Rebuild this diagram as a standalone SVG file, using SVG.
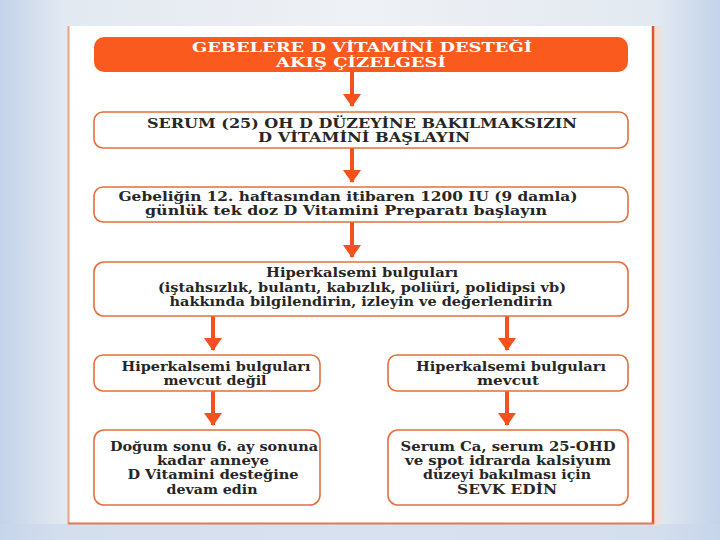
<svg xmlns="http://www.w3.org/2000/svg" width="720" height="540" viewBox="0 0 720 540">
<defs>
<linearGradient id="bg" x1="0" y1="0" x2="1" y2="0">
<stop offset="0" stop-color="#c3d3ea"/>
<stop offset="0.09" stop-color="#e3e9f1"/>
<stop offset="0.5" stop-color="#eef1f5"/>
<stop offset="0.91" stop-color="#e3e9f1"/>
<stop offset="1" stop-color="#c3d3ea"/>
</linearGradient>
<linearGradient id="glow" x1="0" y1="0" x2="1" y2="0">
<stop offset="0" stop-color="#f9d9cb"/>
<stop offset="1" stop-color="#f9d9cb" stop-opacity="0"/>
</linearGradient>
<marker id="ahd" markerUnits="userSpaceOnUse" markerWidth="14" markerHeight="18" refX="12" refY="9" orient="auto" viewBox="0 0 14 18">
<path d="M0,0 L13,9 L0,18 Z" fill="#f4511e"/>
</marker>
</defs>
<style>
.box{fill:#ffffff;stroke:#e2703f;stroke-width:1.6}
.t{font-family:"DejaVu Serif","Liberation Serif",serif;font-weight:bold;font-size:12.5px;fill:#262626;text-anchor:middle}
.w{fill:#ffffff}
.arr{stroke:#f4511e;stroke-width:4;fill:none;marker-end:url(#ahd)}
</style>
<rect x="0" y="0" width="720" height="540" fill="url(#bg)"/>
<rect x="0" y="524" width="720" height="16" fill="#c9d7eb" opacity="0.6"/>
<rect x="654" y="26" width="10" height="500" fill="url(#glow)"/>
<rect x="68" y="26" width="586" height="498" fill="#ffffff"/>
<line x1="68.5" y1="26" x2="68.5" y2="524" stroke="#eaa488" stroke-width="2"/>
<line x1="653" y1="26" x2="653" y2="524" stroke="#d8572a" stroke-width="2.5"/>
<line x1="68" y1="523.5" x2="654" y2="523.5" stroke="#e07a55" stroke-width="2"/>

<g id="connectors">
<line class="arr" x1="352" y1="72" x2="352" y2="106"/>
<line class="arr" x1="352" y1="148" x2="352" y2="182"/>
<line class="arr" x1="352" y1="222" x2="352" y2="257"/>
<line class="arr" x1="213" y1="316" x2="213" y2="350"/>
<line class="arr" x1="507" y1="316" x2="507" y2="350"/>
<line class="arr" x1="213" y1="391" x2="213" y2="425"/>
<line class="arr" x1="507" y1="391" x2="507" y2="425"/>
</g>

<g id="nodes">
<g id="title">
<rect x="94" y="37" width="534" height="35" rx="10" fill="#fb5a1e"/>
<text class="t w" x="362" y="52" textLength="340" lengthAdjust="spacingAndGlyphs">GEBELERE D VİTAMİNİ DESTEĞİ</text>
<text class="t w" x="361" y="67" textLength="170" lengthAdjust="spacingAndGlyphs">AKIŞ ÇİZELGESİ</text>
</g>

<g id="n1">
<rect class="box" x="94" y="112" width="534" height="36" rx="9"/>
<text class="t" x="362" y="128" textLength="430" lengthAdjust="spacingAndGlyphs">SERUM (25) OH D DÜZEYİNE BAKILMAKSIZIN</text>
<text class="t" x="364" y="142" textLength="212" lengthAdjust="spacingAndGlyphs">D VİTAMİNİ BAŞLAYIN</text>
</g>

<g id="n2">
<rect class="box" x="94" y="187" width="534" height="35" rx="9"/>
<text class="t" x="348" y="201" textLength="459" lengthAdjust="spacingAndGlyphs">Gebeliğin 12. haftasından itibaren 1200 IU (9 damla)</text>
<text class="t" x="346" y="215" textLength="402" lengthAdjust="spacingAndGlyphs">günlük tek doz D Vitamini Preparatı başlayın</text>
</g>

<g id="n3">
<rect class="box" x="94" y="262" width="534" height="54" rx="10"/>
<text class="t" x="362" y="277" textLength="192" lengthAdjust="spacingAndGlyphs">Hiperkalsemi bulguları</text>
<text class="t" x="362" y="292" textLength="408" lengthAdjust="spacingAndGlyphs">(iştahsızlık, bulantı, kabızlık, poliüri, polidipsi vb)</text>
<text class="t" x="361" y="306" textLength="383" lengthAdjust="spacingAndGlyphs">hakkında bilgilendirin, izleyin ve değerlendirin</text>
</g>

<g id="n4">
<rect class="box" x="94" y="355" width="226" height="36" rx="9"/>
<text class="t" x="216" y="371" textLength="189" lengthAdjust="spacingAndGlyphs">Hiperkalsemi bulguları</text>
<text class="t" x="215" y="385" textLength="103" lengthAdjust="spacingAndGlyphs">mevcut değil</text>
</g>

<g id="n5">
<rect class="box" x="388" y="355" width="240" height="36" rx="9"/>
<text class="t" x="511" y="371" textLength="190" lengthAdjust="spacingAndGlyphs">Hiperkalsemi bulguları</text>
<text class="t" x="508" y="385" textLength="62" lengthAdjust="spacingAndGlyphs">mevcut</text>
</g>

<g id="n6">
<rect class="box" x="94" y="430" width="226" height="75" rx="10"/>
<text class="t" x="214" y="451" textLength="208" lengthAdjust="spacingAndGlyphs">Doğum sonu 6. ay sonuna</text>
<text class="t" x="213" y="465" textLength="112" lengthAdjust="spacingAndGlyphs">kadar anneye</text>
<text class="t" x="213" y="479" textLength="171" lengthAdjust="spacingAndGlyphs">D Vitamini desteğine</text>
<text class="t" x="212" y="494" textLength="91" lengthAdjust="spacingAndGlyphs">devam edin</text>
</g>

<g id="n7">
<rect class="box" x="388" y="430" width="240" height="75" rx="10"/>
<text class="t" x="508" y="451" textLength="215" lengthAdjust="spacingAndGlyphs">Serum Ca, serum 25-OHD</text>
<text class="t" x="508" y="465" textLength="206" lengthAdjust="spacingAndGlyphs">ve spot idrarda kalsiyum</text>
<text class="t" x="507" y="479" textLength="168" lengthAdjust="spacingAndGlyphs">düzeyi bakılması için</text>
<text class="t" x="507" y="494" textLength="100" lengthAdjust="spacingAndGlyphs">SEVK EDİN</text>
</g>
</g>
</svg>
